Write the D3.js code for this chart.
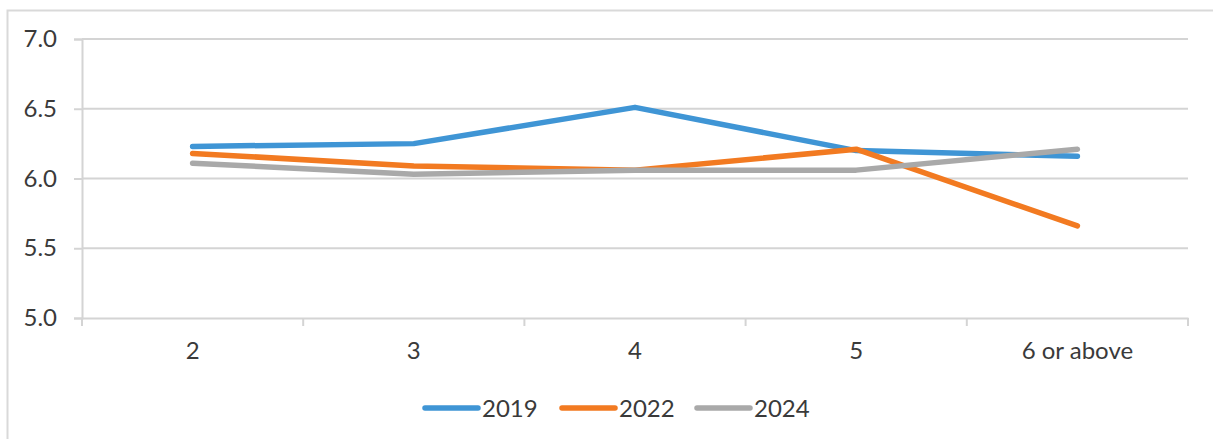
<!DOCTYPE html>
<html>
<head>
<meta charset="utf-8">
<script src="https://cdn.jsdelivr.net/npm/d3@7"></script>
<style>
  html, body { margin: 0; padding: 0; background: #fff; }
  svg { display: block; }
  text { font-family: Lato, "Open Sans", sans-serif; fill: #3a3a3a; }
</style>
</head>
<body>
<svg id="chart" width="1213" height="439"></svg>
<script>
// Household size categories and mean scores per survey year
const categories = ["2", "3", "4", "5", "6 or above"];
const years = ["2019", "2022", "2024"];
const values2019 = [6.23, 6.25, 6.51, 6.20, 6.16];
const values2022 = [6.18, 6.09, 6.06, 6.21, 5.66];
const values2024 = [6.11, 6.03, 6.06, 6.06, 6.21];
const yTicks = [5.0, 5.5, 6.0, 6.5, 7.0];
const colors = ["#3f95d5", "#f27a21", "#a9a9a9"];

const seriesData = [values2019, values2022, values2024].map((v, i) => ({
  name: years[i], values: v, color: colors[i]
}));

const W = 1213, H = 439;
const plot = { left: 82, right: 1188, top: 39, bottom: 318 };
const fontSize = "24px";

const svg = d3.select("#chart");

// outer chart frame
svg.append("rect")
  .attr("x", 7.5).attr("y", 10.5)
  .attr("width", W + 10).attr("height", H + 10)
  .attr("fill", "none").attr("stroke", "#d9d9d9").attr("stroke-width", 2);

const x = d3.scaleBand().domain(categories).range([plot.left, plot.right]).padding(0);
const y = d3.scaleLinear().domain([5, 7]).range([plot.bottom, plot.top]);

// horizontal gridlines
svg.append("g")
  .selectAll("line")
  .data(yTicks.filter(t => t > 5))
  .join("line")
  .attr("x1", plot.left).attr("x2", plot.right)
  .attr("y1", d => y(d)).attr("y2", d => y(d))
  .attr("stroke", "#d4d4d4").attr("stroke-width", 2);

// y axis
const yAxis = svg.append("g")
  .attr("transform", `translate(${plot.left},0)`)
  .call(d3.axisLeft(y).tickValues(yTicks).tickFormat(d3.format(".1f")).tickSize(8).tickPadding(17));
yAxis.select(".domain").attr("stroke", "#d4d4d4").attr("stroke-width", 2);
yAxis.selectAll(".tick line").attr("stroke", "#d4d4d4").attr("stroke-width", 2);
yAxis.selectAll(".tick text")
  .style("font-family", "Lato, sans-serif").style("font-size", fontSize).attr("fill", "#3a3a3a");

// x axis with ticks at category boundaries
const xAxis = svg.append("g")
  .attr("transform", `translate(0,${plot.bottom})`)
  .call(d3.axisBottom(x).tickSize(0).tickPadding(24));
xAxis.select(".domain").attr("stroke", "#d4d4d4").attr("stroke-width", 2);
xAxis.selectAll(".tick text")
  .style("font-family", "Lato, sans-serif").style("font-size", fontSize).attr("fill", "#3a3a3a");
const bounds = categories.map(c => x(c)).concat([x(categories[categories.length - 1]) + x.bandwidth()]);
xAxis.selectAll(".boundary")
  .data(bounds)
  .join("line")
  .attr("class", "boundary")
  .attr("x1", d => d).attr("x2", d => d)
  .attr("y1", 0).attr("y2", 8)
  .attr("stroke", "#d4d4d4").attr("stroke-width", 2);

// series lines
const line = d3.line()
  .x((d, i) => x(categories[i]) + x.bandwidth() / 2)
  .y(d => y(d));

svg.append("g")
  .selectAll("path")
  .data(seriesData)
  .join("path")
  .attr("d", d => line(d.values))
  .attr("fill", "none")
  .attr("stroke", d => d.color)
  .attr("stroke-width", 5.5)
  .attr("stroke-linecap", "round")
  .attr("stroke-linejoin", "round");

// legend
const legendX = [423, 560, 695];
const legend = svg.append("g").attr("transform", "translate(0,408)");
const items = legend.selectAll("g")
  .data(seriesData)
  .join("g")
  .attr("transform", (d, i) => `translate(${legendX[i]},0)`);
items.append("line")
  .attr("x1", 2).attr("x2", 55).attr("y1", 0).attr("y2", 0)
  .attr("stroke", d => d.color).attr("stroke-width", 5.5).attr("stroke-linecap", "round");
items.append("text")
  .attr("x", 59).attr("y", 0).attr("dy", "0.36em")
  .style("font-size", fontSize)
  .text(d => d.name);
</script>
</body>
</html>
